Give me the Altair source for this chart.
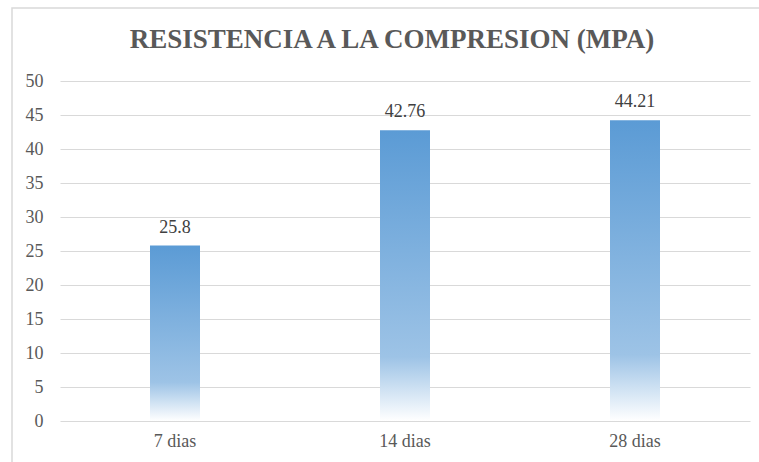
import altair as alt
import pandas as pd

categories = ["7 dias", "14 dias", "28 dias"]
values = [25.8, 42.76, 44.21]
labels = ["25.8", "42.76", "44.21"]
title_text = ["RESISTENCIA A LA COMPRESION (MPA)"]

df = pd.DataFrame({"cat": categories, "val": values, "lab": labels})
FONT = "'Liberation Serif', 'Times New Roman', serif"
TXT = "#595959"

grad = alt.Gradient(
    gradient="linear", x1=0, y1=0, x2=0, y2=1,
    stops=[
        alt.GradientStop(offset=0, color="#5B9BD5"),
        alt.GradientStop(offset=0.78, color="#9DC3E6"),
        alt.GradientStop(offset=1, color="#FFFFFF"),
    ],
)

x = alt.X("cat:N", sort=categories, title=None,
          scale=alt.Scale(paddingInner=0, paddingOuter=0),
          axis=alt.Axis(labelAngle=0, labelFont=FONT, labelFontSize=18, labelColor=TXT,
                        labelPadding=11, ticks=False, domain=False))
y = alt.Y("val:Q", title=None, scale=alt.Scale(domain=[0, 50]),
          axis=alt.Axis(values=list(range(0, 51, 5)), labelFont=FONT, labelFontSize=18,
                        labelColor=TXT, labelPadding=17, ticks=False, domain=False,
                        gridColor="#D9D9D9", gridWidth=1))

bars = alt.Chart(df).mark_bar(color=grad, size=50).encode(x=x, y=y)
text = alt.Chart(df).mark_text(baseline="alphabetic", dy=-13, font=FONT, fontSize=18,
                               color="#404040").encode(x=x, y=y, text="lab:N")

one = pd.DataFrame({"t": title_text})
border = alt.Chart(one).mark_rect(
    fill=None, stroke="#D9D9D9", strokeWidth=1.5, clip=False
).encode(x=alt.value(-48), x2=alt.value(720), y=alt.value(-73), y2=alt.value(460))

title = alt.Chart(one).mark_text(
    font=FONT, fontSize=27, fontWeight="bold", color=TXT, baseline="alphabetic",
    align="center", clip=False
).encode(x=alt.value(332), y=alt.value(-33), text="t:N")

chart = alt.layer(border, bars, text, title).properties(
    width=690, height=340,
    autosize=alt.AutoSizeParams(type="none"),
    padding={"left": 60, "top": 81, "right": 9, "bottom": 42},
).configure_view(stroke=None)

chart.save("out.html", embed_options={"renderer": "svg", "actions": False})
